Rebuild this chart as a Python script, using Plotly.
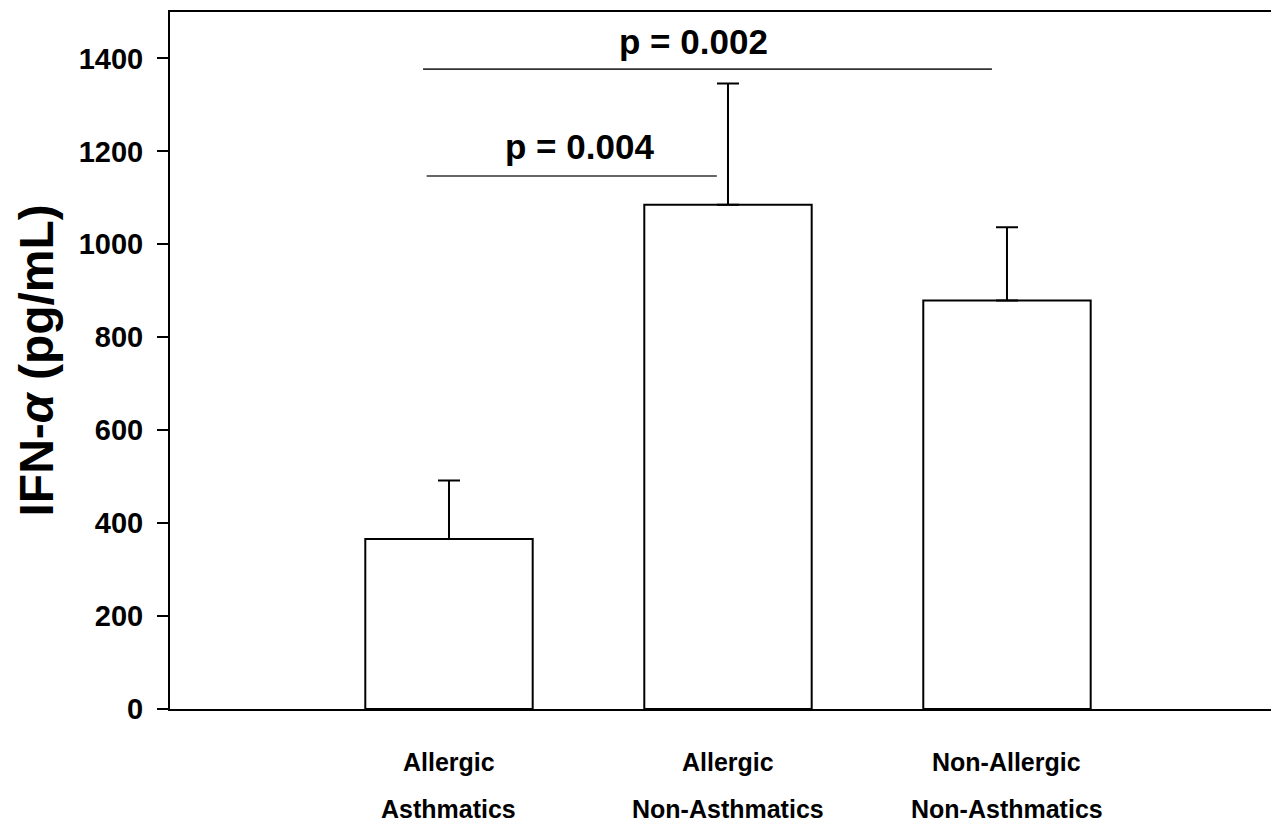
import plotly.graph_objects as go

categories = ["Allergic Asthmatics", "Allergic Non-Asthmatics", "Non-Allergic Non-Asthmatics"]
label_line1 = ["Allergic", "Allergic", "Non-Allergic"]
label_line2 = ["Asthmatics", "Non-Asthmatics", "Non-Asthmatics"]
means = [366, 1085, 879]
sem = [126, 261, 158]
y_ticks = [0, 200, 400, 600, 800, 1000, 1200, 1400]

# significance brackets: (from position, to position, level, label, label x, label y)
sig_lines = [
    (-0.08, 0.96, 1147, "p = 0.004", 0.468, 1210),
    (-0.093, 1.946, 1377, "p = 0.002", 0.876, 1436),
]

FONT = "Liberation Sans"
xpos = list(range(len(categories)))

fig = go.Figure()
fig.add_trace(go.Bar(
    x=xpos, y=means, width=0.6,
    marker=dict(color="white", line=dict(color="black", width=2)),
    error_y=dict(type="data", array=sem, arrayminus=[0] * len(sem), symmetric=False,
                 color="black", thickness=2, width=11),
    showlegend=False,
))

shapes = []
annotations = []
for x0, x1, yv, txt, tx, ty in sig_lines:
    shapes.append(dict(type="line", xref="x", yref="y", x0=x0, x1=x1, y0=yv, y1=yv,
                       line=dict(color="#333333", width=1.6)))
    annotations.append(dict(x=tx, y=ty, xref="x", yref="y", text=txt, showarrow=False,
                            xanchor="center", yanchor="middle",
                            font=dict(family=FONT, size=35, color="black", weight="bold")))

for i, (l1, l2) in enumerate(zip(label_line1, label_line2)):
    annotations.append(dict(x=xpos[i], y=0, xref="x", yref="paper", text=l1, showarrow=False,
                            xanchor="center", yanchor="middle", yshift=-53,
                            font=dict(family=FONT, size=25, color="black", weight="bold")))
    annotations.append(dict(x=xpos[i], y=0, xref="x", yref="paper", text=l2, showarrow=False,
                            xanchor="center", yanchor="middle", yshift=-100,
                            font=dict(family=FONT, size=25, color="black", weight="bold")))

annotations.append(dict(x=0, y=0.5, xref="paper", yref="paper", text="IFN-<i>α</i> (pg/mL)",
                        showarrow=False, textangle=-90, xanchor="center", yanchor="middle",
                        xshift=-134,
                        font=dict(family=FONT, size=48, color="black", weight="bold")))

fig.update_layout(
    width=1271, height=817,
    margin=dict(l=162, r=0, t=4, b=116),
    paper_bgcolor="white", plot_bgcolor="white",
    shapes=shapes, annotations=annotations,
    xaxis=dict(range=[-1.0, 2.975], showticklabels=False, ticks="", showgrid=False,
               zeroline=False, showline=True, linecolor="black", linewidth=2, mirror=True),
    yaxis=dict(range=[0, 1500], tickvals=y_ticks, ticks="outside", ticklen=11, tickwidth=2,
               tickcolor="black", showgrid=False, zeroline=False, showline=True,
               linecolor="black", linewidth=2, ticklabelstandoff=8,
               tickfont=dict(family=FONT, size=29, color="black", weight="bold")),
)

fig.write_html("out.html")
